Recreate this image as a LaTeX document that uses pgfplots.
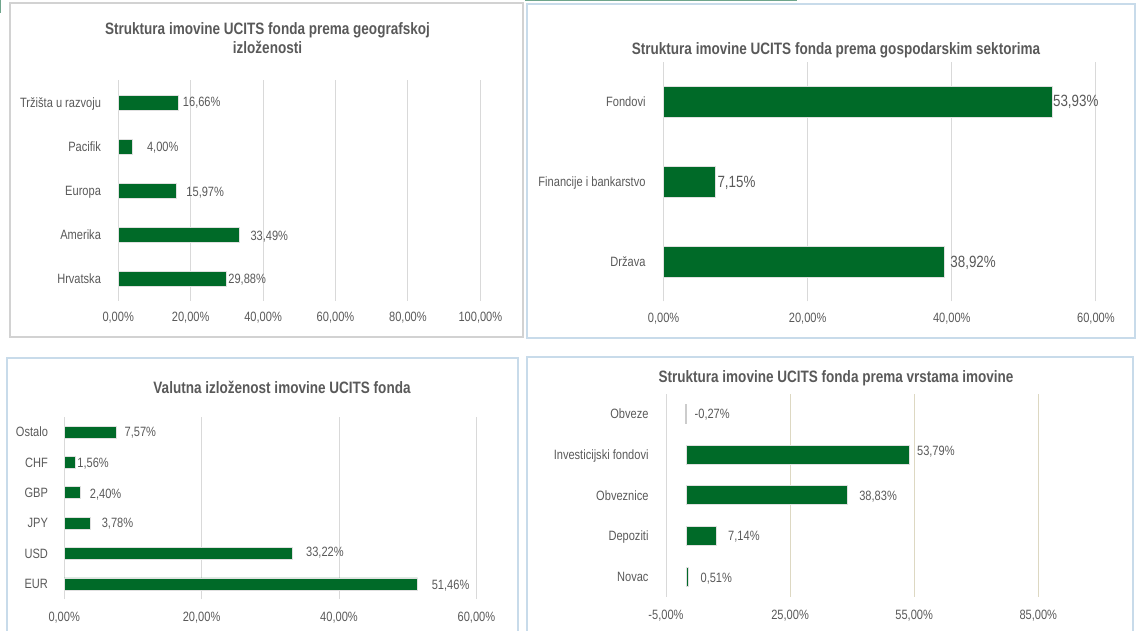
\documentclass[border=0pt]{standalone}
\usepackage{pgfplots}
\pgfplotsset{compat=1.18}
\usepackage{fontspec}
\setmainfont{Liberation Sans}[FakeStretch=0.82]
\definecolor{barg}{HTML}{006A28}
\definecolor{txt}{HTML}{595959}
\definecolor{gridc}{HTML}{D9D9D9}
\definecolor{tanc}{HTML}{DDD8C2}
\definecolor{bordb}{HTML}{C8DBEA}
\definecolor{bordg}{HTML}{D2D2D2}
\definecolor{tealc}{HTML}{6FA58C}
\newcommand\lab{\fontsize{13.5}{16}\selectfont}
\newcommand\labL{\fontsize{16.3}{19}\selectfont}
\newcommand\ttl{\fontsize{16.5}{19}\selectfont\bfseries}
\pgfplotsset{
  panel/.style={
    scale only axis, xbar, enlargelimits=false, clip=false,
    axis line style={draw=none}, major tick style={draw=none},
    xmajorgrids=true, ymajorgrids=false,
    major grid style={gridc, line width=1pt},
    tick label style={font=\lab, text=txt},
    /pgf/number format/assume math mode=true,
    xticklabel style={anchor=base},
    yticklabel style={anchor=base east, inner sep=0pt, yshift=-4.8pt},
    point meta=x,
    nodes near coords={\pgfmathprintnumber[fixed,fixed zerofill,precision=2,use comma]{\pgfplotspointmeta}\%},
    visualization depends on={value \thisrow{dx}\as\dx},
    visualization depends on={value \thisrow{dy}\as\dy},
    every node near coord/.append style={anchor=base west, inner sep=0pt, font=\lab, text=txt, xshift=\dx pt, yshift=\dy pt-4.8pt},
  },
  gbar/.style={fill=barg, draw=black!12, line width=0.8pt},
}
\begin{document}
\begin{tikzpicture}
\path[use as bounding box] (0,0) rectangle (1136pt,631pt);
% panel frames
\draw[bordg, line width=1.2pt] (10pt,628pt) rectangle (523pt,294pt);
\draw[bordb, line width=1.2pt] (527pt,627pt) rectangle (1135pt,293pt);
\draw[bordb, line width=1.2pt] (7pt,273pt) rectangle (518pt,-10pt);
\draw[bordb, line width=1.2pt] (527pt,274pt) rectangle (1133pt,-10pt);
\draw[tealc, line width=2pt] (525pt,630.5pt) -- (797pt,630.5pt);
\draw[tealc, line width=1.5pt] (0.7pt,631pt) -- (0.7pt,618pt);

% titles
\node[anchor=base, font=\ttl, text=txt] at (267.5pt,596.1pt) {Struktura imovine UCITS fonda prema geografskoj};
\node[anchor=base, font=\ttl, text=txt] at (267.5pt,577.1pt) {izloženosti};
\node[anchor=base, font=\ttl, text=txt] at (836pt,576.1pt) {Struktura imovine UCITS fonda prema gospodarskim sektorima};
\node[anchor=base, font=\ttl, text=txt] at (282pt,237.8pt) {Valutna izloženost imovine UCITS fonda};
\node[anchor=base, font=\ttl, text=txt] at (836pt,248.4pt) {Struktura imovine UCITS fonda prema vrstama imovine};

% Panel 1
\begin{axis}[panel, at={(118.2pt,330pt)}, anchor=south west, width=362.2pt, height=220.5pt,
  xmin=0, xmax=100, ymin=-0.5, ymax=4.5, bar width=15pt,
  xtick={0,20,40,60,80,100},
  xticklabels={{0,00\%},{20,00\%},{40,00\%},{60,00\%},{80,00\%},{100,00\%}},
  xticklabel style={yshift=-20.6pt},
  ytick={0,1,2,3,4},
  yticklabels={Hrvatska,Amerika,Europa,Pacifik,Tržišta u razvoju},
  yticklabel style={xshift=-12.8pt}]
\addplot[gbar] table[x=v,y=k] {
k v dx dy
0 29.88 1.6 0
1 33.49 10.6 -0.7
2 15.97 10 -0.7
3 4.00 14 0
4 16.66 4 0.8
};
\end{axis}

% Panel 2
\begin{axis}[panel, at={(663.6pt,329.6pt)}, anchor=south west, width=432.3pt, height=239.3pt,
  xmin=0, xmax=60, ymin=-0.5, ymax=2.5, bar width=31pt,
  xtick={0,20,40,60},
  xticklabels={{0,00\%},{20,00\%},{40,00\%},{60,00\%}},
  xticklabel style={yshift=-21.3pt},
  ytick={0,1,2},
  yticklabels={Država,Financije i bankarstvo,Fondovi},
  yticklabel style={xshift=-13.6pt},
  every node near coord/.append style={font=\labL, yshift=-1pt}]
\addplot[gbar] table[x=v,y=k] {
k v dx dy
0 38.92 6 0
1 7.15 2 0
2 53.93 0.5 1.3
};
\end{axis}

% Panel 3
\begin{axis}[panel, at={(64.2pt,31.8pt)}, anchor=south west, width=412.2pt, height=182.4pt,
  xmin=0, xmax=60, ymin=-0.5, ymax=5.5, bar width=12pt,
  xtick={0,20,40,60},
  xticklabels={{0,00\%},{20,00\%},{40,00\%},{60,00\%}},
  xticklabel style={yshift=-22.2pt},
  ytick={0,1,2,3,4,5},
  yticklabels={EUR,USD,JPY,GBP,CHF,Ostalo},
  yticklabel style={xshift=-11.8pt}]
\addplot[gbar] table[x=v,y=k] {
k v dx dy
0 51.46 13.7 -1
1 33.22 13.3 2
2 3.78 11.2 0
3 2.40 8.8 -1
4 1.56 2.1 0
5 7.57 8.1 0
};
\end{axis}

% Panel 4
\begin{axis}[panel, at={(666pt,34pt)}, anchor=south west, width=372.3pt, height=203.3pt,
  xmin=-5, xmax=85, ymin=-0.5, ymax=4.5, bar width=19pt,
  major grid style={tanc, line width=1pt},
  xtick={-5,25,55,85},
  xticklabels={{-5,00\%},{25,00\%},{55,00\%},{85,00\%}},
  xticklabel style={yshift=-22.7pt},
  ytick={0,1,2,3,4},
  yticklabels={Novac,Depoziti,Obveznice,Investicijski fondovi,Obveze},
  yticklabel style={xshift=-13pt}]
\draw[gridc, line width=1pt] (axis cs:-5,-0.5) -- (axis cs:-5,4.5);
\addplot[gbar, bar shift=0pt] table[x=v,y=k] {
k v dx dy
0 0.51 11.4 -1
1 7.14 11.6 0
2 38.83 11.6 -0.7
3 53.79 7.5 3.5
};
\addplot[bar shift=0pt, fill=white, draw=black!20, line width=0.8pt] table[x=v,y=k] {
k v dx dy
4 -0.27 8.7 0
};
\end{axis}
\end{tikzpicture}
\end{document}
